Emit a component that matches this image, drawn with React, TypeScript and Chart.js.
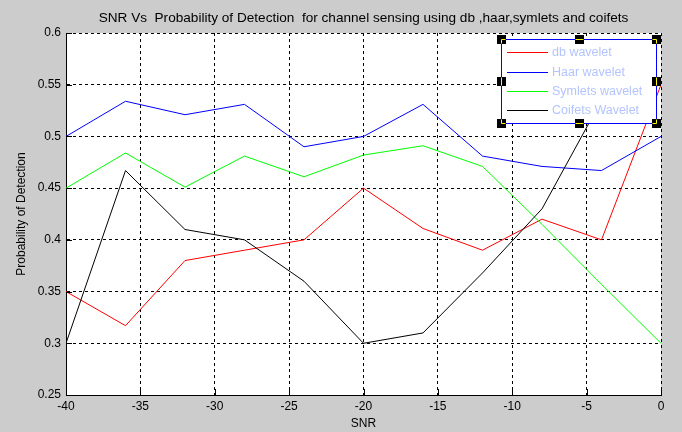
import React, { useEffect, useRef } from "react";
import { Chart, registerables } from "chart.js";

Chart.register(...registerables);

const snr = [-40, -36, -32, -28, -24, -20, -16, -12, -8, -4, 0];
const dbWavelet = [0.35, 0.317, 0.38, 0.39, 0.4, 0.45, 0.411, 0.39, 0.42, 0.4, 0.55];
const haarWavelet = [0.5, 0.534, 0.521, 0.531, 0.49, 0.5, 0.531, 0.481, 0.471, 0.467, 0.5];
const symletsWavelet = [0.45, 0.484, 0.451, 0.481, 0.461, 0.482, 0.491, 0.471, 0.415, 0.357, 0.3];
const coifetsWavelet = [0.3, 0.467, 0.41, 0.4, 0.36, 0.3, 0.31, 0.368, 0.43, 0.535, 0.55];

const xTicks = [-40, -35, -30, -25, -20, -15, -10, -5, 0];
const yTicks = [0.25, 0.3, 0.35, 0.4, 0.45, 0.5, 0.55, 0.6];

const seriesNames = ["db wavelet", "Haar wavelet", "Symlets wavelet", "Coifets Wavelet"];
const seriesColors = ["#ff0000", "#0000ff", "#00ff00", "#000000"];
const seriesValues = [dbWavelet, haarWavelet, symletsWavelet, coifetsWavelet];

const titleText = "SNR Vs  Probability of Detection  for channel sensing using db ,haar,symlets and coifets";
const FONT = "'Liberation Sans', Arial, sans-serif";

const matlabPlugin = {
  id: "matlabLook",
  beforeDraw(chart: any) {
    const { ctx, chartArea } = chart;
    ctx.save();
    ctx.fillStyle = "#cccccc";
    ctx.fillRect(0, 0, chart.width, chart.height);
    ctx.fillStyle = "#ffffff";
    ctx.fillRect(chartArea.left, chartArea.top, chartArea.right - chartArea.left, chartArea.bottom - chartArea.top);
    ctx.restore();
  },
  afterDraw(chart: any) {
    const { ctx, chartArea } = chart;
    const xs = chart.scales.x;
    const ys = chart.scales.y;
    ctx.save();
    // inward tick marks
    ctx.strokeStyle = "#000";
    ctx.lineWidth = 1;
    ctx.beginPath();
    xTicks.forEach((v) => {
      const px = Math.round(xs.getPixelForValue(v)) + 0.5;
      ctx.moveTo(px, chartArea.bottom);
      ctx.lineTo(px, chartArea.bottom - 6);
    });
    yTicks.forEach((v) => {
      const py = Math.round(ys.getPixelForValue(v)) + 0.5;
      ctx.moveTo(chartArea.left, py);
      ctx.lineTo(chartArea.left + 6, py);
    });
    ctx.stroke();

    // title
    ctx.fillStyle = "#000";
    ctx.font = `13.6px ${FONT}`;
    ctx.textAlign = "center";
    ctx.textBaseline = "middle";
    ctx.fillText(titleText, (chartArea.left + chartArea.right) / 2, 18);

    // legend box
    const bx = 501, by = 39, bw = 155, bh = 84;
    ctx.fillStyle = "#ffffff";
    ctx.fillRect(bx, by, bw, bh);
    ctx.strokeStyle = "#0000ff";
    ctx.lineWidth = 1;
    ctx.strokeRect(bx + 0.5, by + 0.5, bw, bh);
    const rows = [52, 72, 91, 110];
    ctx.font = `12.5px ${FONT}`;
    ctx.textAlign = "left";
    ctx.textBaseline = "middle";
    seriesNames.forEach((name, i) => {
      ctx.strokeStyle = seriesColors[i];
      ctx.beginPath();
      ctx.moveTo(507, rows[i] + 0.5);
      ctx.lineTo(548, rows[i] + 0.5);
      ctx.stroke();
      ctx.fillStyle = "#b4c4ff";
      ctx.fillText(name, 552, rows[i] + 1);
    });
    // selection handles
    const x0 = bx + 0.5, x1 = bx + bw + 0.5, xm = bx + Math.round(bw / 2) + 0.5;
    const y0 = by + 0.5, y1 = by + bh + 0.5, ym = by + Math.round(bh / 2) + 0.5;
    const handles: Array<[number, number, number, number]> = [
      [x0, y0, 1, 1], [xm, y0, 0, 1], [x1, y0, -1, 1],
      [x0, ym, 1, 0], [x1, ym, -1, 0],
      [x0, y1, 1, -1], [xm, y1, 0, -1], [x1, y1, -1, -1],
    ];
    handles.forEach(([hx, hy, dx, dy]) => {
      ctx.fillStyle = "#000";
      ctx.fillRect(Math.round(hx - 4.5), Math.round(hy - 4.5), 9, 9);
      ctx.strokeStyle = "#ffff00";
      ctx.beginPath();
      if (dy !== 0) {
        const from = dx === 0 ? hx - 4 : hx;
        const to = dx === 0 ? hx + 4 : hx + dx * 4;
        ctx.moveTo(from, hy);
        ctx.lineTo(to, hy);
      }
      if (dx !== 0) {
        const from = dy === 0 ? hy - 4 : hy;
        const to = dy === 0 ? hy + 4 : hy + dy * 4;
        ctx.moveTo(hx, from);
        ctx.lineTo(hx, to);
      }
      ctx.stroke();
    });
    ctx.restore();
  },
};

export default function App() {
  const ref = useRef<HTMLCanvasElement>(null);
  useEffect(() => {
    if (!ref.current) return;
    const chart = new Chart(ref.current, {
      type: "line",
      data: {
        datasets: seriesNames.map((name, i) => ({
          label: name,
          data: snr.map((x, j) => ({ x, y: seriesValues[i][j] })),
          borderColor: seriesColors[i],
          backgroundColor: seriesColors[i],
          borderWidth: 1,
          pointRadius: 0,
          tension: 0,
          fill: false,
          order: 4 - i,
        })),
      },
      options: {
        responsive: false,
        animation: false,
        layout: { padding: { top: 33, right: 21, left: 0, bottom: 0 } },
        plugins: {
          legend: { display: false },
          title: { display: false },
          tooltip: { enabled: false },
        },
        scales: {
          x: {
            type: "linear",
            min: -40,
            max: 0,
            afterBuildTicks: (s: any) => {
              s.ticks = xTicks.map((v) => ({ value: v }));
            },
            afterFit: (s: any) => {
              s.height = 37;
            },
            ticks: {
              color: "#000",
              padding: 4,
              font: { family: FONT, size: 12 },
              maxRotation: 0,
              autoSkip: false,
              callback: (v: any) => String(v),
            },
            grid: { color: "#000", lineWidth: 1, drawTicks: false },
            border: { display: true, color: "#000", width: 1, dash: [3, 3] },
            title: {
              display: true,
              text: "SNR",
              color: "#000",
              font: { family: FONT, size: 12 },
              padding: { top: 0, bottom: 1 },
            },
          },
          y: {
            type: "linear",
            min: 0.25,
            max: 0.6,
            afterBuildTicks: (s: any) => {
              s.ticks = yTicks.map((v) => ({ value: v }));
            },
            afterFit: (s: any) => {
              s.width = 66;
            },
            ticks: {
              color: "#000",
              padding: 5,
              font: { family: FONT, size: 12 },
              autoSkip: false,
              callback: (v: any) => String(Number(Number(v).toFixed(2))),
            },
            grid: { color: "#000", lineWidth: 1, drawTicks: false },
            border: { display: true, color: "#000", width: 1, dash: [3, 3] },
            title: {
              display: true,
              text: "Probability of Detection",
              color: "#000",
              font: { family: FONT, size: 12 },
              padding: { top: 14, bottom: 0 },
            },
          },
        },
      },
      plugins: [matlabPlugin],
    });
    return () => chart.destroy();
  }, []);
  return (
    <div style={{ position: "fixed", left: 0, top: 0, width: 682, height: 432 }}>
      <canvas ref={ref} width={682} height={432} style={{ display: "block" }} />
    </div>
  );
}
